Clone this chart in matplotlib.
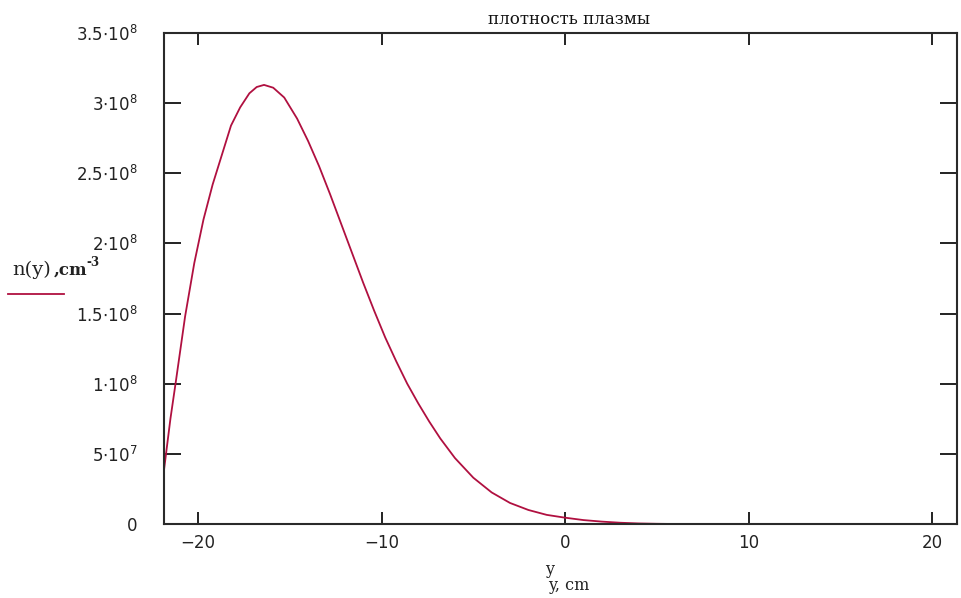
import matplotlib
matplotlib.use("Agg")
import matplotlib.pyplot as plt

# data
y_cm = [-21.85, -21.5, -21.2, -20.7, -20.2, -19.7, -19.2, -18.7, -18.2, -17.7,
        -17.2, -16.8, -16.4, -15.9, -15.3, -14.6, -14.0, -13.4, -12.8, -12.2,
        -11.6, -11.0, -10.4, -9.8, -9.2, -8.6, -8.0, -7.4, -6.8, -6.0,
        -5.0, -4.0, -3.0, -2.0, -1.0, 0.0, 1.0, 2.0, 3.0, 4.0,
        5.0, 6.0, 10.0, 15.0, 21.35]
n_y = [0.385e8, 0.75e8, 1.02e8, 1.48e8, 1.86e8, 2.17e8, 2.42e8, 2.63e8, 2.84e8, 2.97e8,
       3.07e8, 3.115e8, 3.13e8, 3.11e8, 3.04e8, 2.89e8, 2.73e8, 2.55e8, 2.35e8, 2.14e8,
       1.93e8, 1.72e8, 1.52e8, 1.33e8, 1.16e8, 1.00e8, 0.86e8, 0.73e8, 0.61e8, 0.47e8,
       0.33e8, 0.225e8, 0.15e8, 0.10e8, 0.065e8, 0.045e8, 0.028e8, 0.017e8, 0.009e8, 0.004e8,
       0.0015e8, 0.0, 0.0, 0.0, 0.0]

x_ticks = [-20, -10, 0, 10, 20]
x_tick_labels = ["\u221220", "\u221210", "0", "10", "20"]
y_ticks = [0, 0.5e8, 1.0e8, 1.5e8, 2.0e8, 2.5e8, 3.0e8, 3.5e8]
y_tick_labels = ["0", r"5$\cdot$10$^{7}$", r"1$\cdot$10$^{8}$", r"1.5$\cdot$10$^{8}$",
                 r"2$\cdot$10$^{8}$", r"2.5$\cdot$10$^{8}$", r"3$\cdot$10$^{8}$",
                 r"3.5$\cdot$10$^{8}$"]

title = "плотность плазмы"
x_label1 = "y"
x_label2 = "y, cm"

plt.rcParams['font.family'] = ['DejaVu Sans']
fig = plt.figure(figsize=(9.61, 5.98), dpi=100)
ax = fig.add_axes([164/961, 1-524/598, (957-164)/961, (524-33)/598])

line_color = '#b01040'
ax.plot(y_cm, n_y, color=line_color, lw=1.3)

ax.set_xlim(-21.85, 21.35)
ax.set_ylim(0, 3.5e8)
ax.set_xticks(x_ticks)
ax.set_xticklabels(x_tick_labels, fontsize=12, color='#222222')
ax.set_yticks(y_ticks)
ax.set_yticklabels(y_tick_labels, fontsize=12, color='#222222')
ax.tick_params(direction='in', width=1.4, top=True, right=True, colors='#222222')
ax.tick_params(axis='x', length=8.5, pad=7)
ax.tick_params(axis='y', length=12, pad=19)
for s in ax.spines.values():
    s.set_linewidth(1.5)
    s.set_color('#2a2a2a')

serif = ['DejaVu Serif']
fig.text(569/961, 1-19/598, title, ha='center', va='center', fontsize=12,
         family=serif, color='#111111')
fig.text(550/961, 1-570/598, x_label1, ha='center', va='center', fontsize=11.5,
         family=serif, color='#222222')
fig.text(548/961, 1-586/598, x_label2, ha='left', va='center', fontsize=11.5,
         family=serif, color='#222222')

fig.text(12/961, 1-270/598, "n(y)", ha='left', va='center', fontsize=14,
         family=serif, color='#222222')
fig.text(54/961, 1-270/598, ",cm", ha='left', va='center', fontsize=12,
         weight='bold', family=serif, color='#222222')
fig.text(86/961, 1-263/598, "-3", ha='left', va='center', fontsize=8.5,
         weight='bold', family=serif, color='#222222')
fig.add_artist(plt.Line2D([8/961, 64/961], [1-294/598, 1-294/598],
                          color=line_color, lw=1.3, transform=fig.transFigure))

fig.savefig("out.png", dpi=100)
